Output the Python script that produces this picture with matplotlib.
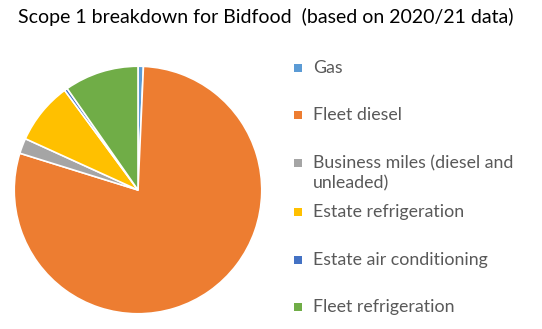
import matplotlib.pyplot as plt
from matplotlib.patches import Rectangle

labels = ["Gas", "Fleet diesel", "Business miles (diesel and\nunleaded)",
          "Estate refrigeration", "Estate air conditioning", "Fleet refrigeration"]
shares = [0.7, 79.1, 2.0, 8.1, 0.4, 9.7]
colors = ["#5B9BD5", "#ED7D31", "#A5A5A5", "#FFC000", "#4472C4", "#70AD47"]

plt.rcParams['font.family'] = ['Lato', 'DejaVu Sans']

fig = plt.figure(figsize=(5.42, 3.29), dpi=100)
W, H = 542, 329

cx, cy, r = 138, 190, 125
ax = fig.add_axes([(cx - r) / W, (H - cy - r) / H, 2 * r / W, 2 * r / H])
wedges, _ = ax.pie(shares, colors=colors, startangle=90, counterclock=False,
                   wedgeprops=dict(edgecolor="white", linewidth=1.2))
ax.set_xlim(-1.01, 1.01)
ax.set_ylim(-1.01, 1.01)
ax.set_aspect("equal")

fig.text(18 / W, 1 - 17 / H, "Scope 1 breakdown for Bidfood  (based on 2020/21 data)",
         fontsize=14, color="black", va="center", ha="left")

rows = [68, 115, 163, 212, 260, 307]
for lab, col, y in zip(labels, colors, rows):
    fig.patches.append(Rectangle(((298 - 4) / W, 1 - (y + 4) / H), 8 / W, 8 / H,
                                 transform=fig.transFigure, facecolor=col, edgecolor="none"))
    fig.text(313 / W, 1 - (y - 8) / H, lab, fontsize=12.8, color="#595959",
             va="top", ha="left", linespacing=1.35)

fig.savefig("out.png", dpi=100)
